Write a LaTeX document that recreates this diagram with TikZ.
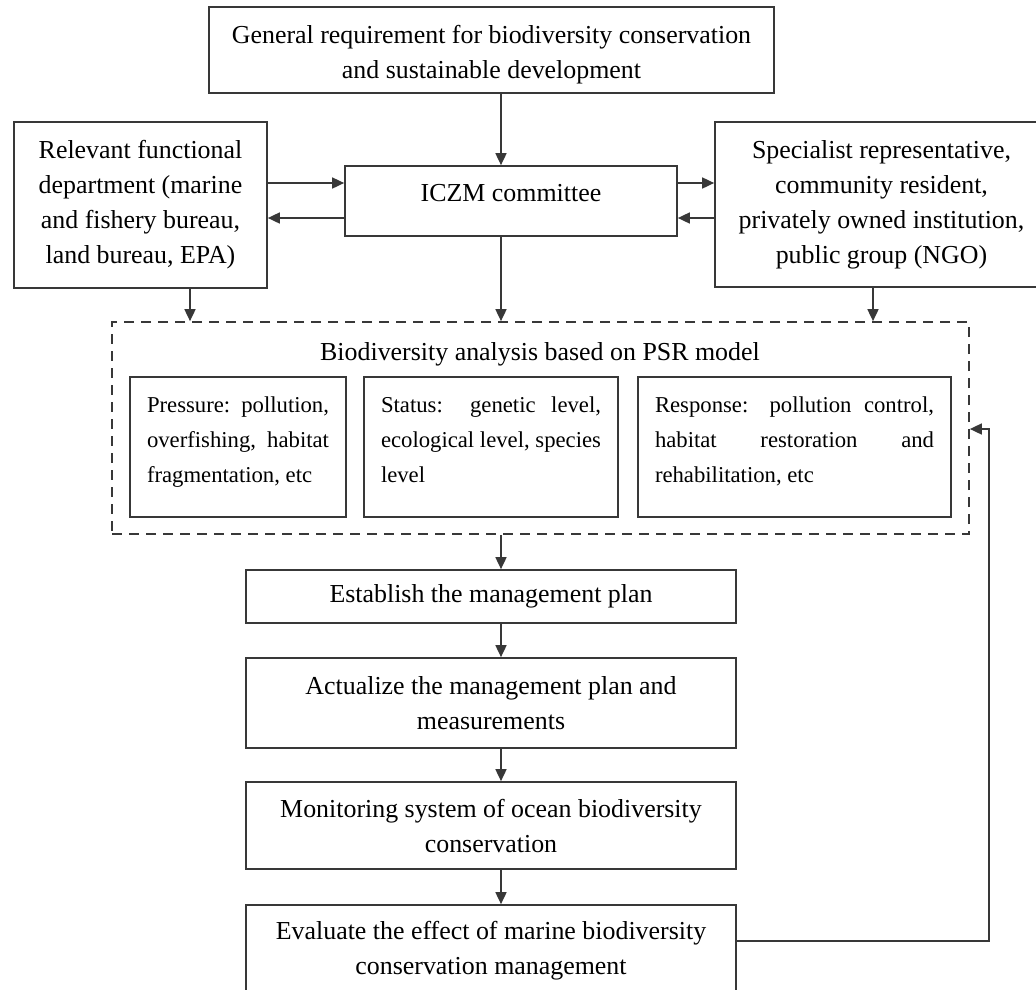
\documentclass[tikz,border=0pt]{standalone}
\usepackage{fontspec}
\setmainfont{Liberation Serif}
\usetikzlibrary{arrows.meta,calc}
\hyphenpenalty=10000
\tolerance=10000
\newcommand{\mydepthrule}{\rule[-15pt]{0pt}{15pt}}
\newcommand{\mytopstrut}{\rule{0pt}{26.7pt}}
\begin{document}
\begin{tikzpicture}[x=1pt,y=-1pt,
  line/.style={draw=black!78, line width=1.7pt},
  box/.style={line, inner sep=0pt, align=center,
    font=\fontsize{25.9}{35}\selectfont},
  inbox/.style={line, inner xsep=17pt, inner ysep=0pt, align=justify,
    minimum height=140pt,
    font=\fontsize{22.7}{35}\selectfont},
  dashbox/.style={line, dash pattern=on 10pt off 7pt},
  arr/.style={line, -{Triangle[length=12pt,width=11pt]}},
  title/.style={inner sep=0pt, font=\fontsize{25.9}{35}\selectfont}
]
\useasboundingbox (0,0) rectangle (1036,989);
\clip (0,0) rectangle (1036,989);

% top row
\node[box, minimum width=565pt, minimum height=86pt] (top) at (491.5,50)
  {\mytopstrut General requirement for biodiversity conservation\\and sustainable development};
\node[box, minimum width=253pt, minimum height=166pt] (left) at (140.5,205)
  {Relevant functional\\department (marine\\and fishery bureau,\\land bureau, EPA)};
\node[box, minimum width=332pt, minimum height=70pt, text depth=16pt] (iczm) at (511,201)
  {ICZM committee};
\node[box, minimum width=333pt, minimum height=165pt] (right) at (881.5,204.5)
  {Specialist representative,\\community resident,\\privately owned institution,\\public group (NGO)};

% PSR analysis
\node[dashbox, minimum width=857pt, minimum height=212pt] (psr) at (540.5,428) {};
\node[title] (psrtitle) at (540,354) {Biodiversity analysis based on PSR model};
\node[inbox, text width=182pt] (pressure) at (238,447)
  {Pressure: pollution,\linebreak overfishing, habitat\linebreak fragmentation, etc\mydepthrule};
\node[inbox, text width=220pt] (status) at (491,447)
  {Status: genetic level,\linebreak ecological level, species\linebreak level\mydepthrule};
\node[inbox, text width=279pt] (response) at (794.5,447)
  {Response: pollution control,\linebreak habitat restoration and\linebreak rehabilitation, etc\mydepthrule};

% lower chain
\node[box, minimum width=490pt, minimum height=53pt] (establish) at (491,596.5)
  {Establish the management plan};
\node[box, minimum width=490pt, minimum height=90pt] (actualize) at (491,703)
  {Actualize the management plan and\\measurements};
\node[box, minimum width=490pt, minimum height=87pt] (monitor) at (491,825.5)
  {Monitoring system of ocean biodiversity\\conservation};
\node[box, minimum width=490pt, minimum height=92pt] (evaluate) at (491,951)
  {Evaluate the effect of marine biodiversity\\conservation management};

% helper coordinates
\coordinate (sx) at (501,0);
\coordinate (lx) at (190,0);
\coordinate (rx) at (873,0);
\coordinate (ya) at (0,183);
\coordinate (yb) at (0,218);
\coordinate (fb) at (989,429);

% connectors
\draw[arr] (top.south -| sx) -- (iczm.north -| sx);
\draw[arr] (left.east |- ya) -- (iczm.west |- ya);
\draw[arr] (iczm.west |- yb) -- (left.east |- yb);
\draw[arr] (iczm.east |- ya) -- (right.west |- ya);
\draw[arr] (right.west |- yb) -- (iczm.east |- yb);
\draw[arr] (left.south -| lx) -- (psr.north -| lx);
\draw[arr] (iczm.south -| sx) -- (psr.north -| sx);
\draw[arr] (right.south -| rx) -- (psr.north -| rx);
\draw[arr] (psr.south -| sx) -- (establish.north -| sx);
\draw[arr] (establish.south -| sx) -- (actualize.north -| sx);
\draw[arr] (actualize.south -| sx) -- (monitor.north -| sx);
\draw[arr] (monitor.south -| sx) -- (evaluate.north -| sx);
\draw[arr] ([yshift=10pt]evaluate.east) -| (fb) -- (psr.east |- fb);
\end{tikzpicture}
\end{document}
